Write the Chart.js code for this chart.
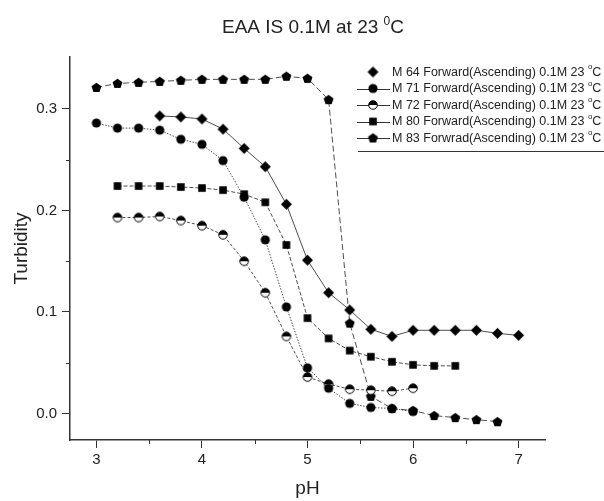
<!DOCTYPE html>
<html>
<head>
<meta charset="utf-8">
<title>EAA IS 0.1M at 23 °C</title>
<script src="https://cdn.jsdelivr.net/npm/chart.js@4.4.1/dist/chart.umd.min.js"></script>
<style>
  html, body { margin: 0; padding: 0; background: #fff; }
  #wrap { width: 604px; height: 501px; }
</style>
</head>
<body>
<div id="wrap"><canvas id="turbidityChart" width="604" height="501"></canvas></div>
<script>
const chartTitle = "EAA IS 0.1M at 23 |0|C";
const xAxisTitle = "pH";
const yAxisTitle = "Turbidity";

const xTicks = [3, 4, 5, 6, 7];
const xMinorTicks = [3.5, 4.5, 5.5, 6.5];
const yTicks = [0.0, 0.1, 0.2, 0.3];
const yMinorTicks = [0.05, 0.15, 0.25];

const seriesNames = [
  "M 64 Forward(Ascending) 0.1M 23 |o|C",
  "M 71 Forward(Ascending) 0.1M 23 |o|C",
  "M 72 Forward(Ascending) 0.1M 23 |o|C",
  "M 80 Forward(Ascending) 0.1M 23 |o|C",
  "M 83 Forwrad(Ascending) 0.1M 23 |o|C",
];

const phM64 = [3.6, 3.8, 4.0, 4.2, 4.4, 4.6, 4.8, 5.0, 5.2, 5.4, 5.6, 5.8, 6.0, 6.2, 6.4, 6.6, 6.8, 7.0];
const turbM64 = [0.293, 0.292, 0.290, 0.280, 0.261, 0.243, 0.206, 0.151, 0.119, 0.102, 0.083, 0.076, 0.082, 0.082, 0.082, 0.082, 0.079, 0.077];

const phM71 = [3.0, 3.2, 3.4, 3.6, 3.8, 4.0, 4.2, 4.4, 4.6, 4.8, 5.0, 5.2, 5.4, 5.6, 5.8, 6.0];
const turbM71 = [0.286, 0.281, 0.281, 0.279, 0.270, 0.265, 0.249, 0.213, 0.171, 0.105, 0.045, 0.025, 0.010, 0.006, 0.005, 0.002];

const phM72 = [3.2, 3.4, 3.6, 3.8, 4.0, 4.2, 4.4, 4.6, 4.8, 5.0, 5.2, 5.4, 5.6, 5.8, 6.0];
const turbM72 = [0.193, 0.193, 0.194, 0.190, 0.185, 0.176, 0.150, 0.119, 0.076, 0.036, 0.029, 0.024, 0.023, 0.022, 0.025];

const phM80 = [3.2, 3.4, 3.6, 3.8, 4.0, 4.2, 4.4, 4.6, 4.8, 5.0, 5.2, 5.4, 5.6, 5.8, 6.0, 6.2, 6.4];
const turbM80 = [0.224, 0.224, 0.224, 0.223, 0.222, 0.220, 0.216, 0.208, 0.166, 0.094, 0.074, 0.062, 0.056, 0.051, 0.048, 0.047, 0.047];

const phM83 = [3.0, 3.2, 3.4, 3.6, 3.8, 4.0, 4.2, 4.4, 4.6, 4.8, 5.0, 5.2, 5.4, 5.6, 5.8, 6.0, 6.2, 6.4, 6.6, 6.8];
const turbM83 = [0.321, 0.325, 0.326, 0.327, 0.328, 0.329, 0.329, 0.329, 0.329, 0.332, 0.330, 0.309, 0.089, 0.017, 0.005, 0.003, -0.002, -0.004, -0.006, -0.008];

const fontFamily = '"Liberation Sans", Arial, sans-serif';
const ink = "#222";

// marker glyphs drawn once on small canvases, used as pointStyle
function makeMarker(kind, r) {
  const size = Math.ceil(r * 2 + 2);
  const c = document.createElement("canvas");
  c.width = size;
  c.height = size;
  const g = c.getContext("2d");
  const m = size / 2;
  g.fillStyle = "#000";
  g.strokeStyle = "#000";
  g.lineWidth = 1;
  g.beginPath();
  if (kind === "diamond") {
    g.moveTo(m, m - r);
    g.lineTo(m + r, m);
    g.lineTo(m, m + r);
    g.lineTo(m - r, m);
    g.closePath();
    g.fill();
  } else if (kind === "circle") {
    g.arc(m, m, r, 0, Math.PI * 2);
    g.fill();
  } else if (kind === "square") {
    g.rect(m - r, m - r, r * 2, r * 2);
    g.fill();
  } else if (kind === "pentagon") {
    for (let i = 0; i < 5; i++) {
      const a = -Math.PI / 2 + (i * 2 * Math.PI) / 5;
      const px = m + r * Math.cos(a);
      const py = m + 0.4 + r * Math.sin(a);
      if (i === 0) g.moveTo(px, py); else g.lineTo(px, py);
    }
    g.closePath();
    g.fill();
  } else if (kind === "half") {
    g.arc(m, m, r - 0.5, 0, Math.PI * 2);
    g.fillStyle = "#fff";
    g.fill();
    g.beginPath();
    g.arc(m, m, r - 0.5, Math.PI, Math.PI * 2);
    g.closePath();
    g.fillStyle = "#000";
    g.fill();
    g.beginPath();
    g.arc(m, m, r - 0.5, 0, Math.PI * 2);
    g.stroke();
  }
  return c;
}

const markers = [
  makeMarker("diamond", 5.5),
  makeMarker("circle", 4.6),
  makeMarker("half", 4.8),
  makeMarker("square", 3.8),
  makeMarker("pentagon", 5.2),
];

const lineDashes = [[], [1.5, 1.5], [3, 2], [4, 2], [6, 3]];
const legendHasLine = [false, true, true, true, true];

function toPoints(xs, ys) {
  return xs.map((x, i) => ({ x: x, y: ys[i] }));
}

const seriesData = [
  toPoints(phM64, turbM64),
  toPoints(phM71, turbM71),
  toPoints(phM72, turbM72),
  toPoints(phM80, turbM80),
  toPoints(phM83, turbM83),
];

// text with a raised small part, written as "before|sup|after"
function drawSupText(ctx, text, x, y, size, supSize, align) {
  const [before, sup, after] = text.split("|");
  const mainFont = `${size}px ${fontFamily}`;
  const supFont = `${supSize}px ${fontFamily}`;
  ctx.font = mainFont;
  const wBefore = ctx.measureText(before).width;
  const wAfter = ctx.measureText(after).width;
  ctx.font = supFont;
  const wSup = ctx.measureText(sup).width;
  const total = wBefore + wSup + wAfter;
  let left = x;
  if (align === "center") left = x - total / 2;
  ctx.textAlign = "left";
  ctx.font = mainFont;
  ctx.fillText(before, left, y);
  ctx.font = supFont;
  ctx.fillText(sup, left + wBefore, y - size * 0.42);
  ctx.font = mainFont;
  ctx.fillText(after, left + wBefore + wSup, y);
}

const decorPlugin = {
  id: "decor",
  afterDraw(chart) {
    const { ctx, scales } = chart;
    const area = chart.chartArea;
    ctx.save();

    // minor ticks
    ctx.strokeStyle = "#333";
    ctx.lineWidth = 1;
    ctx.beginPath();
    xMinorTicks.forEach((v) => {
      const px = Math.round(scales.x.getPixelForValue(v)) + 0.5;
      ctx.moveTo(px, area.bottom);
      ctx.lineTo(px, area.bottom + 4);
    });
    yMinorTicks.forEach((v) => {
      const py = Math.round(scales.y.getPixelForValue(v)) + 0.5;
      ctx.moveTo(area.left, py);
      ctx.lineTo(area.left - 4, py);
    });
    ctx.stroke();

    // title
    ctx.fillStyle = ink;
    ctx.textBaseline = "alphabetic";
    drawSupText(ctx, chartTitle, 313, 33, 19, 12, "center");

    // legend
    const rowTop = 72;
    const rowStep = 16.5;
    ctx.textBaseline = "middle";
    seriesNames.forEach((name, i) => {
      const y = rowTop + i * rowStep;
      if (legendHasLine[i]) {
        ctx.strokeStyle = "#333";
        ctx.lineWidth = 1;
        ctx.beginPath();
        ctx.moveTo(357, Math.round(y) + 0.5);
        ctx.lineTo(390, Math.round(y) + 0.5);
        ctx.stroke();
      }
      const mk = markers[i];
      ctx.drawImage(mk, 373 - mk.width / 2, y - mk.height / 2);
      ctx.fillStyle = ink;
      drawSupText(ctx, name, 392, y + 0.5, 12.5, 8, "left");
    });
    ctx.strokeStyle = "#333";
    ctx.lineWidth = 1;
    ctx.beginPath();
    ctx.moveTo(358, 151.5);
    ctx.lineTo(604, 151.5);
    ctx.stroke();

    ctx.restore();
  },
};

new Chart(document.getElementById("turbidityChart"), {
  type: "line",
  data: {
    datasets: seriesData.map((points, i) => ({
      label: seriesNames[i].replace(/\|/g, ""),
      data: points,
      borderColor: "#3a3a3a",
      borderWidth: 0.9,
      borderDash: lineDashes[i],
      pointStyle: markers[i],
      pointRadius: 5,
      fill: false,
      tension: 0,
    })),
  },
  options: {
    responsive: false,
    animation: false,
    events: [],
    layout: { padding: { top: 57, right: 59, left: 0, bottom: 0 } },
    plugins: {
      legend: { display: false },
      title: { display: false },
      tooltip: { enabled: false },
    },
    scales: {
      x: {
        type: "linear",
        min: 2.75,
        max: 7.25,
        afterFit: (scale) => { scale.height = 61; },
        afterBuildTicks: (scale) => { scale.ticks = xTicks.map((v) => ({ value: v })); },
        grid: { drawOnChartArea: false, drawTicks: true, tickLength: 8, color: "#333", lineWidth: 1 },
        border: { display: true, color: "#333", width: 1.5 },
        ticks: {
          color: ink,
          font: { family: fontFamily, size: 15 },
          padding: 3,
          maxRotation: 0,
          callback: (v) => String(v),
        },
        title: {
          display: true,
          text: xAxisTitle,
          color: ink,
          font: { family: fontFamily, size: 19 },
          padding: { top: 0, bottom: 1 },
        },
      },
      y: {
        min: -0.026,
        max: 0.351,
        afterFit: (scale) => { scale.width = 70; },
        afterBuildTicks: (scale) => { scale.ticks = yTicks.map((v) => ({ value: v })); },
        grid: { drawOnChartArea: false, drawTicks: true, tickLength: 8, color: "#333", lineWidth: 1 },
        border: { display: true, color: "#333", width: 1.5 },
        ticks: {
          color: ink,
          font: { family: fontFamily, size: 15 },
          padding: 5,
          callback: (v) => Number(v).toFixed(1),
        },
        title: {
          display: true,
          text: yAxisTitle,
          color: ink,
          font: { family: fontFamily, size: 19 },
          padding: { top: 10, bottom: 0 },
        },
      },
    },
  },
  plugins: [decorPlugin],
});
</script>
</body>
</html>
